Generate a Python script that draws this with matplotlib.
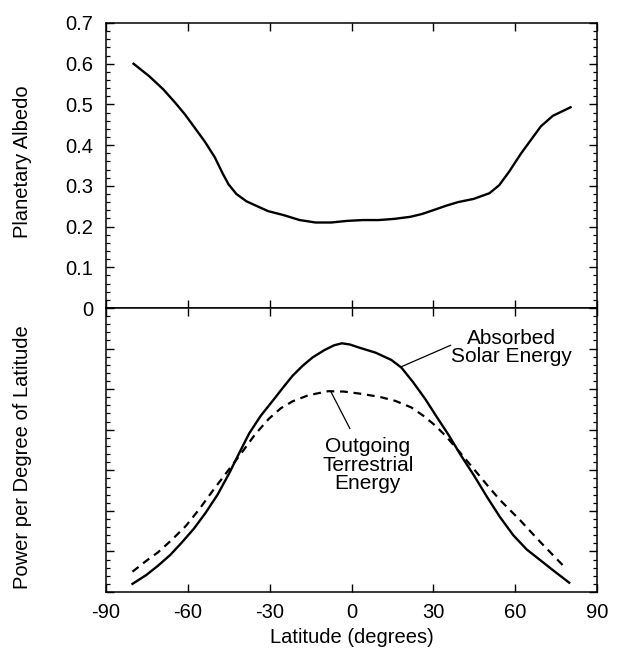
import matplotlib
matplotlib.use("Agg")
import matplotlib.pyplot as plt
from matplotlib.ticker import MultipleLocator, FixedLocator

plt.rcParams['font.family'] = ['Liberation Sans', 'DejaVu Sans']

# ---- data ----
albedo_lat = [-79.9, -74.1, -69.0, -64.6, -61.0, -57.4, -53.8, -50.1, -47.2, -45.1, -42.2, -38.5,
              -34.9, -30.6, -24.8, -19.0, -13.2, -7.4, -1.6, 4.2, 10.0, 15.8, 21.6, 25.9, 30.3,
              34.6, 39.0, 44.8, 50.6, 54.2, 57.8, 62.2, 65.8, 69.4, 73.8, 80.3]
albedo_val = [0.600, 0.569, 0.537, 0.504, 0.475, 0.442, 0.409, 0.370, 0.330, 0.304, 0.280, 0.262,
              0.251, 0.238, 0.228, 0.216, 0.210, 0.210, 0.214, 0.216, 0.216, 0.219, 0.224, 0.231,
              0.241, 0.251, 0.260, 0.268, 0.282, 0.302, 0.335, 0.380, 0.413, 0.446, 0.472, 0.493]

absorbed_lat = [-80.3, -75.2, -70.9, -66.5, -62.2, -57.8, -53.5, -49.1, -44.8, -41.2, -37.5, -33.2,
                -28.8, -25.2, -21.6, -18.0, -14.3, -10.0, -6.4, -3.5, -0.6, 3.0, 8.8, 14.6, 18.3,
                22.6, 27.0, 31.3, 35.7, 40.0, 45.1, 49.8, 54.4, 59.3, 64.2, 69.1, 74.0, 79.8]
absorbed_val = [0.20, 0.42, 0.65, 0.91, 1.22, 1.56, 1.95, 2.40, 2.93, 3.42, 3.91, 4.35,
                4.72, 5.03, 5.33, 5.57, 5.78, 5.96, 6.08, 6.13, 6.10, 6.02, 5.90, 5.72, 5.53,
                5.17, 4.76, 4.31, 3.86, 3.38, 2.85, 2.33, 1.85, 1.40, 1.05, 0.79, 0.53, 0.23]

outgoing_lat = [-80.3, -75.2, -70.9, -65.8, -60.7, -55.7, -50.6, -45.5, -40.4, -35.4, -30.3, -25.9,
                -21.6, -15.8, -8.5, -2.8, 3.0, 10.3, 16.1, 21.9, 26.2, 30.6, 34.9, 40.0, 45.1,
                49.8, 54.4, 61.8, 69.1, 77.6]
outgoing_val = [0.50, 0.77, 0.98, 1.29, 1.63, 2.05, 2.52, 2.97, 3.42, 3.88, 4.27, 4.53,
                4.70, 4.85, 4.95, 4.94, 4.89, 4.81, 4.71, 4.55, 4.35, 4.11, 3.82, 3.42, 3.01,
                2.63, 2.27, 1.77, 1.24, 0.65]

lat_ticks = [-90, -60, -30, 0, 30, 60, 90]
lat_ticklabels = ['-90', '-60', '-30', '0', '30', '60', '90']
albedo_ticks = [0, 0.1, 0.2, 0.3, 0.4, 0.5, 0.6, 0.7]
albedo_ticklabels = ['0', '0.1', '0.2', '0.3', '0.4', '0.5', '0.6', '0.7']
power_ticks = [0, 1, 2, 3, 4, 5, 6, 7]

fig = plt.figure(figsize=(6.2, 6.49), dpi=100)
W, H = 620, 649
left, right = 106, 597
top_px, mid_px, bot_px = 23, 308, 592
ax1 = fig.add_axes([left / W, 1 - mid_px / H, (right - left) / W, (mid_px - top_px) / H])
ax2 = fig.add_axes([left / W, 1 - bot_px / H, (right - left) / W, (bot_px - mid_px) / H])

TICK_FS = 14.5
LABEL_FS = 14.5
ANN_FS = 15

for ax in (ax1, ax2):
    ax.set_xlim(-90, 90)
    ax.xaxis.set_major_locator(FixedLocator(lat_ticks))
    ax.tick_params(axis='both', which='major', direction='in', length=6, width=1.0,
                   top=True, right=True, labelsize=TICK_FS)
    ax.tick_params(axis='y', which='minor', direction='in', length=3, width=0.9,
                   left=True, right=True)
    for s in ax.spines.values():
        s.set_linewidth(1.1)

# top panel
ax1.plot(albedo_lat, albedo_val, color='black', lw=1.7)
ax1.set_ylim(0, 0.7)
ax1.set_yticks(albedo_ticks)
ax1.set_yticklabels(albedo_ticklabels)
ax1.yaxis.set_minor_locator(MultipleLocator(0.02))
ax1.tick_params(axis='x', labelbottom=False)
ax1.tick_params(axis='y', pad=9)
ax1.set_ylabel('Planetary Albedo', fontsize=LABEL_FS)
ax1.yaxis.set_label_coords(-0.150, 0.512)

# bottom panel
ax2.plot(absorbed_lat, absorbed_val, color='black', lw=1.7)
ax2.plot(outgoing_lat, outgoing_val, color='black', lw=1.6, dashes=(3.5, 2.6))
ax2.set_ylim(0, 7)
ax2.set_yticks(power_ticks)
ax2.set_yticklabels([])
ax2.yaxis.set_minor_locator(MultipleLocator(0.2))
ax2.set_xticklabels(lat_ticklabels)
ax2.tick_params(axis='x', pad=8)
ax2.set_ylabel('Power per Degree of Latitude', fontsize=LABEL_FS)
ax2.yaxis.set_label_coords(-0.150, 0.475)
ax2.set_xlabel('Latitude (degrees)', fontsize=LABEL_FS)
ax2.xaxis.set_label_coords(0.5, -0.128)

ax2.text(58.5, 6.03, 'Absorbed\nSolar Energy', ha='center', va='center',
         multialignment='center', fontsize=ANN_FS, linespacing=0.95)
ax2.plot([18.2, 36.3], [5.55, 6.08], color='black', lw=0.9)

ax2.text(6.0, 3.13, 'Outgoing\nTerrestrial\nEnergy', ha='center', va='center',
         multialignment='center', fontsize=ANN_FS, linespacing=0.95)
ax2.plot([-7.5, -0.6], [4.93, 4.03], color='black', lw=0.9)

fig.savefig('out.png', dpi=100)
